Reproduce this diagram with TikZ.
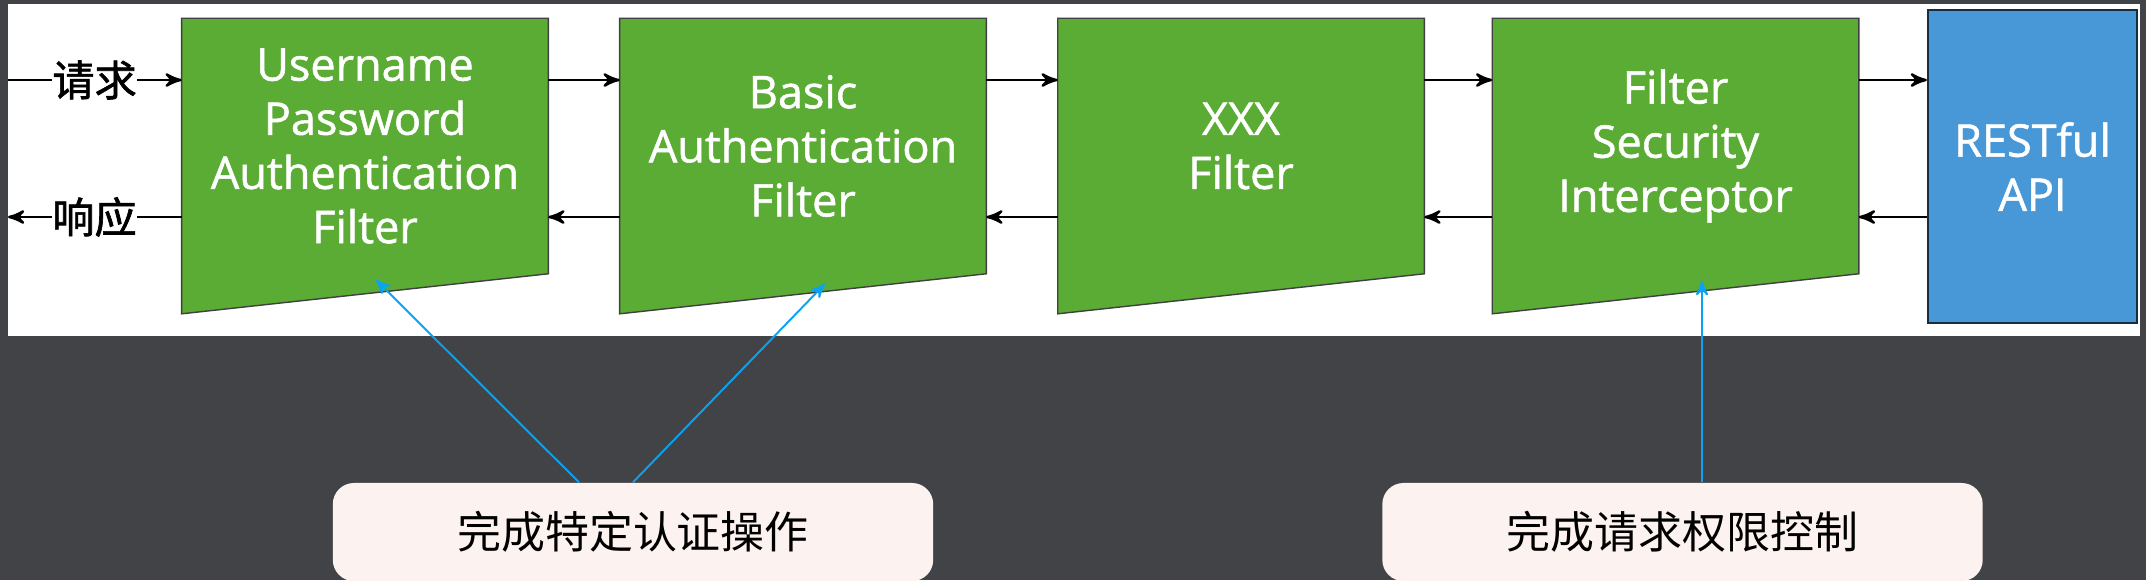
\documentclass[tikz,border=0pt]{standalone}
\usepackage{fontspec}
\setmainfont{Open Sans}
\newfontfamily\boxfont[FakeBold=1.2]{Open Sans}
\newfontfamily\cjk{Noto Sans CJK SC}
\newfontfamily\cjkheavy[FakeBold=1.5]{Noto Sans CJK SC}
\usepackage{xcolor}
\usepackage{tikz}
\usetikzlibrary{arrows,positioning,backgrounds}
\definecolor{filtergreen}{HTML}{5AAC34}
\definecolor{apiblue}{HTML}{4898D8}
\definecolor{slate}{HTML}{424346}
\definecolor{notepink}{HTML}{FCF2F0}
\definecolor{pointer}{HTML}{0AA2F2}
\tikzset{
  every picture/.style = {
    >=stealth',
    x = 0.01cm,
    y = -0.01cm
  }
  ,
  filterbox/.style = {
    rectangle,
    align = center,
    text = white,
    font = \boxfont\fontsize{12.8}{15.4}\selectfont,
    minimum width = 3.65cm,
    minimum height = 2.54cm,
    inner sep = 0pt
  }
  ,
  apibox/.style = {
    filterbox,
    fill = apiblue,
    draw = black!70!apiblue,
    line width = 0.6pt,
    minimum width = 2.09cm,
    minimum height = 3.13cm
  }
  ,
  trapeze/.style = {
    fill = filtergreen,
    draw = black!75,
    line width = 0.4pt
  }
  , % labels of the request path
  label-path/.style = {
    font = \cjkheavy\fontsize{12}{14}\selectfont,
    inner sep = 0pt
  }
  , % notes below the chain
  notebox/.style = {
    rectangle,
    rounded corners = 6pt,
    fill = notepink,
    minimum width = 6cm,
    minimum height = 0.98cm,
    font = \cjk\fontsize{12.5}{15}\selectfont
  }
  ,
  flow/.style = {
    ->,
    line width = 0.7pt
  }
  ,
  pointer-line/.style = {
    ->,
    draw = pointer,
    line width = 0.55pt
  }
}
\begin{document}
\begin{tikzpicture}
\node[filterbox] at (365,146) (b1) {Username\\Password\\Authentication\\Filter};
\node[filterbox] at (803,146) (b2) {Basic\\Authentication\\Filter};
\node[filterbox] at (1241,146) (b3) {XXX\\Filter};
\node[filterbox] at (1675.5,146) (b4) {Filter\\Security\\Interceptor};
\node[apibox] at (2032.5,166.5) (api) {RESTful\\API};

\begin{pgfonlayer}{background}
\fill[slate] (0,0) rectangle (2146,580);
\fill[white] (8,4) rectangle (2140,336);
\foreach \n in {b1,b2,b3,b4}
  \filldraw[trapeze] (\n.north west) -- (\n.north east) -- (\n.south east) -- ([yshift=-0.4cm]\n.south west) -- cycle;
\end{pgfonlayer}

\coordinate (req) at (0,80);
\coordinate (res) at (0,217);
\coordinate (reqin) at (8,80);
\coordinate (resout) at (8,217);
\node[label-path] at (94.5,80) (reqlabel) {请求};
\node[label-path] at (94.5,217) (reslabel) {响应};
\draw[line width=0.7pt] (reqin) -- (reqlabel);
\draw[flow] (reqlabel) -- (b1.west |- req);
\draw[line width=0.7pt] (b1.west |- res) -- (reslabel);
\draw[flow] (reslabel) -- (resout);
\foreach \a/\b in {b1/b2,b2/b3,b3/b4,b4/api} {
  \draw[flow] (\a.east |- req) -- (\b.west |- req);
  \draw[flow] (\b.west |- res) -- (\a.east |- res);
}

\node[notebox] at (633,532) (note1) {完成特定认证操作};
\node[notebox] at (1682.5,532) (note2) {完成请求权限控制};
\coordinate (t1) at ([xshift=0.11cm,yshift=-0.06cm]b1.south);
\coordinate (t2) at ([xshift=0.22cm,yshift=-0.1cm]b2.south);
\coordinate (t4) at ([xshift=0.265cm,yshift=-0.07cm]b4.south);
\draw[pointer-line] ([xshift=-0.54cm]note1.north) -- (t1);
\draw[pointer-line] (note1.north) -- (t2);
\draw[pointer-line] (t4 |- note2.north) -- (t4);
\end{tikzpicture}
\end{document}
